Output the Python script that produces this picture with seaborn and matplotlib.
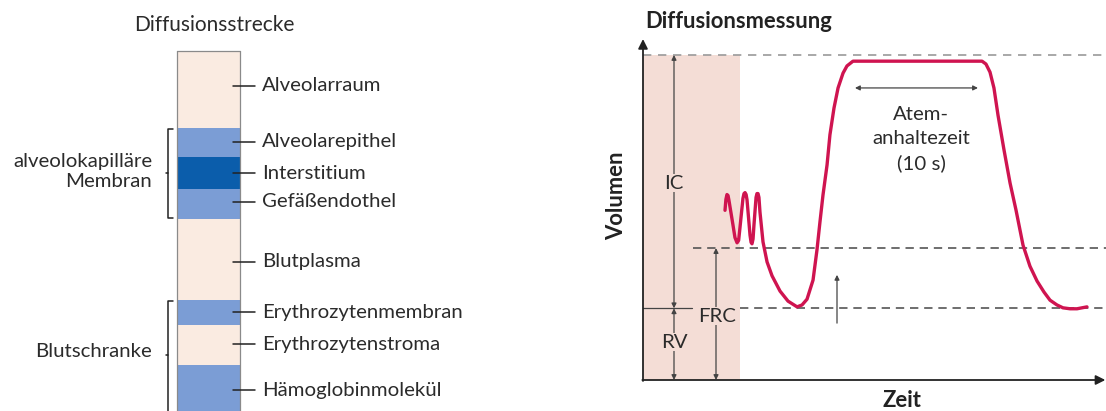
import numpy as np
import pandas as pd
import matplotlib
matplotlib.use("Agg")
import matplotlib.pyplot as plt
import seaborn as sns

sns.set_theme(style="white")
plt.rcParams['font.family'] = ['Lato', 'DejaVu Sans']

# ---------------- data ----------------
layer_names = ["Alveolarraum", "Alveolarepithel", "Interstitium", "Gefäßendothel",
               "Blutplasma", "Erythrozytenmembran", "Erythrozytenstroma", "Hämoglobinmolekül"]
layer_thickness = [77, 29, 32, 30, 81, 25, 40, 60]
layer_kind = ["plasma", "membran", "interstitium", "membran",
              "plasma", "membran", "plasma", "membran"]
layer_label_pos = [0.45, 0.48, 0.5, 0.43, 0.53, 0.48, 0.48, 0.42]
group_names = ["alveolokapilläre\nMembran", "Blutschranke"]
group_first_layer = [1, 5]
group_last_layer = [3, 7]

t_curve = [6.26, 6.33, 6.41, 6.49, 6.56, 6.87, 7.02, 7.18, 7.30, 7.40, 7.63, 7.71, 7.79,
           7.87, 7.94, 8.17, 8.25, 8.32, 8.40, 8.47, 8.63, 8.70, 8.78, 8.85,
           8.93, 9.16, 9.47, 9.85, 10.46, 11.07, 11.76, 12.14, 12.52, 12.98, 13.28,
           13.51, 13.74, 14.05, 14.27, 14.58, 14.89, 15.27, 15.57, 16.03, 25.88, 26.18,
           26.49, 26.79, 27.10, 27.56, 28.02, 28.47, 29.01, 29.54, 30.08, 30.61, 31.07,
           31.60, 32.06, 32.60, 33.13, 33.89]
v_curve = [3.55, 3.78, 3.88, 3.86, 3.76, 3.24, 2.98, 2.87, 2.92, 3.18, 3.80, 3.90, 3.92,
           3.88, 3.77, 3.03, 2.88, 2.85, 2.95, 3.24, 3.82, 3.90, 3.90, 3.82,
           3.51, 2.89, 2.47, 2.18, 1.86, 1.65, 1.53, 1.57, 1.69, 2.09, 2.72,
           3.31, 3.87, 4.50, 5.13, 5.69, 6.11, 6.42, 6.57, 6.67, 6.67, 6.61,
           6.44, 6.11, 5.54, 4.81, 4.12, 3.56, 2.82, 2.38, 2.07, 1.84, 1.67,
           1.57, 1.51, 1.49, 1.49, 1.53]
RV = 1.50
FRC = 2.76
TLC = 6.80
hold_start, hold_end = 16.18, 25.57
hold_level = 6.11

# ---------------- colours ----------------
col_plasma = "#FAEBE1"
col_membran = "#7B9DD5"
col_inter = "#0B5DAB"
col_curve = "#CF1450"
col_shade = "#F4DDD6"
col_text = "#2b2b2b"
col_line = "#444444"
kind_color = {"plasma": col_plasma, "membran": col_membran, "interstitium": col_inter}

W, H = 1106, 411
fig = plt.figure(figsize=(W / 100, H / 100), dpi=100)
fig.patch.set_facecolor("white")

# ---------------- left panel ----------------
axL = fig.add_axes([0, 0, 553 / W, 1])
axL.set_xlim(0, 553)
axL.set_ylim(H, 0)
axL.axis("off")

top = 51
x0, x1 = 177, 240
bottoms = top + np.concatenate([[0], np.cumsum(layer_thickness)[:-1]])
df = pd.DataFrame({"name": layer_names, "thick": layer_thickness,
                   "bottom": bottoms, "kind": layer_kind})
axL.bar([(x0 + x1) / 2] * len(df), df["thick"], bottom=df["bottom"], width=x1 - x0,
        color=[kind_color[k] for k in df["kind"]], edgecolor="none", zorder=2)
total_bottom = top + sum(layer_thickness)
axL.plot([x0, x0], [top, total_bottom], color="#8a8a8a", lw=0.9, zorder=3)
axL.plot([x1, x1], [top, total_bottom], color="#8a8a8a", lw=0.9, zorder=3)
axL.plot([x0, x1], [top, top], color="#8a8a8a", lw=0.9, zorder=3)

for name, b, th, f in zip(df["name"], df["bottom"], df["thick"], layer_label_pos):
    yc = b + th * f
    axL.plot([233, 255], [yc, yc], color="#222222", lw=1.1, zorder=4)
    axL.text(262, yc, name, fontsize=14.7, color=col_text, va="center", ha="left")

for gname, i0, i1 in zip(group_names, group_first_layer, group_last_layer):
    ya = bottoms[i0] + 1
    yb = min(bottoms[i1] + layer_thickness[i1] - 1, 420)
    bx = 168
    axL.plot([bx + 5, bx, bx, bx + 5], [ya, ya, yb, yb], color="#222222", lw=1.1,
             clip_on=False)
    ym = (ya + yb) / 2 if i0 == 1 else 355
    axL.plot([bx, bx - 2.5], [ym, ym], color="#222222", lw=1.1)
    ty = ym if i0 == 1 else 353
    axL.text(152, ty - 2, gname, fontsize=14.7, color=col_text, ha="right", va="center",
             multialignment="right", linespacing=1.25)

axL.text(214, 25, "Diffusionsstrecke", fontsize=15, color=col_text,
         ha="center", va="center")

# ---------------- right panel ----------------
px_s = 13.1
px_l = 47.8
ax_left_px, ax_bottom_px = 643, 380
xmax = (W - ax_left_px) / px_s
ymax = (ax_bottom_px - 40) / px_l
axR = fig.add_axes([ax_left_px / W, (H - ax_bottom_px) / H,
                    (W - ax_left_px) / W, (ax_bottom_px - 40) / H])
axR.set_xlim(0, xmax)
axR.set_ylim(0, ymax)

shade_end = (740 - 643) / px_s
axR.fill_between([0, shade_end], 0, TLC, color=col_shade, lw=0, zorder=0)

# reference lines
axR.plot([0, xmax], [TLC, TLC], color="#9a9a9a", lw=1.2, dashes=(5, 4), zorder=1)
axR.plot([(693 - 643) / px_s, xmax], [FRC, FRC], color="#555555", lw=1.2,
         dashes=(5, 3.5), zorder=1)
axR.plot([0, (692 - 643) / px_s], [RV, RV], color=col_line, lw=0.9, zorder=1)
axR.plot([shade_end, xmax], [RV, RV], color="#555555", lw=1.2, dashes=(5, 3.5), zorder=1)

# curve
curve = pd.DataFrame({"Zeit": t_curve, "Volumen": v_curve})
sns.lineplot(data=curve, x="Zeit", y="Volumen", ax=axR, sort=False, estimator=None,
             color=col_curve, lw=2.4, zorder=5, legend=False)
ln = axR.lines[-1]
ln.set_solid_joinstyle("round")
ln.set_solid_capstyle("round")
axR.set_xlabel("")
axR.set_ylabel("")
axR.axis("off")

# axes with arrows
axR.annotate("", xy=(0, ymax + 0.02), xytext=(0, -0.02),
             arrowprops=dict(arrowstyle="-|>", color="#222222", lw=1.3,
                             mutation_scale=14, shrinkA=0, shrinkB=0),
             annotation_clip=False)
axR.annotate("", xy=(xmax - 0.05, 0), xytext=(-0.05, 0),
             arrowprops=dict(arrowstyle="-|>", color="#222222", lw=1.3,
                             mutation_scale=14, shrinkA=0, shrinkB=0),
             annotation_clip=False)

def darrow(p0, p1, style="<|-|>", lw=0.9, ms=7):
    axR.annotate("", xy=p1, xytext=p0,
                 arrowprops=dict(arrowstyle=style, color=col_line, lw=lw,
                                 mutation_scale=ms, shrinkA=0, shrinkB=0),
                 annotation_clip=False, zorder=3)

x_ic = (674 - 643) / px_s
x_frc = (716 - 643) / px_s
darrow((x_ic, RV), (x_ic, TLC))
darrow((x_ic, 0), (x_ic, RV))
darrow((x_frc, 0), (x_frc, FRC))
darrow((hold_start, hold_level), (hold_end, hold_level))
darrow(((837 - 643) / px_s, 1.19), ((837 - 643) / px_s, 2.20), style="-|>")

def lab(x, y, s):
    axR.text(x, y, s, fontsize=14.7, color=col_text, ha="center", va="center",
             zorder=4, bbox=dict(facecolor=col_shade, edgecolor="none", pad=0.5))

lab(x_ic, (380 - 183) / px_l, "IC")
lab(x_ic, (380 - 342) / px_l, "RV")
lab((717 - 643) / px_s, (380 - 316) / px_l, "FRC")
axR.text((921 - 643) / px_s, (380 - 139) / px_l, "Atem-\nanhaltezeit\n(10 s)",
         fontsize=14.7, color=col_text, ha="center", va="center", linespacing=1.5)

fig.text(645 / W, 1 - 22 / H, "Diffusionsmessung", fontsize=15.8, fontweight="bold",
         color="#222222", ha="left", va="center")
fig.text(617 / W, 1 - 196 / H, "Volumen", fontsize=15.8, fontweight="bold",
         color="#222222", ha="center", va="center", rotation=90)
fig.text(902 / W, 1 - 400 / H, "Zeit", fontsize=15.8, fontweight="bold",
         color="#222222", ha="center", va="center")

fig.savefig("out.png", dpi=100, facecolor="white")
